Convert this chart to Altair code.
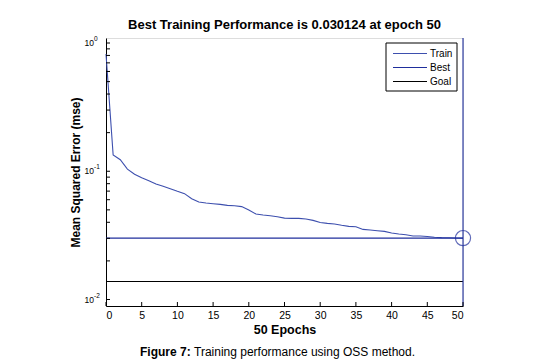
import altair as alt
import pandas as pd

# ---------------- data ----------------
epochs = list(range(0, 51))
train_mse = [0.82, 0.134, 0.123, 0.104, 0.0948, 0.089, 0.0845, 0.0796, 0.0764, 0.0731,
             0.0698, 0.0669, 0.0611, 0.0576, 0.0565, 0.0558, 0.0552, 0.0542, 0.0539, 0.053,
             0.0499, 0.0464, 0.0456, 0.045, 0.0442, 0.0431, 0.0429, 0.0429, 0.0424, 0.0414,
             0.0399, 0.0392, 0.0388, 0.0379, 0.0372, 0.0369, 0.0352, 0.0348, 0.0344, 0.034,
             0.033, 0.0324, 0.032, 0.0313, 0.0313, 0.031, 0.0306, 0.0304, 0.0303, 0.0302,
             0.030124]
best_epoch = 50
best_perf = 0.030124
goal_perf = 0.0138
x_span = [0, 50]

series_names = ["Train", "Best", "Goal"]
series_colors = ["#3d4fae", "#1f2e9c", "#000000"]

x_ticks = list(range(0, 51, 5))
y_minor = [m * 10.0 ** e for e in (-2, -1) for m in range(1, 10)] + [1.0]
y_decades = [1.0, 0.1, 0.01]
y_exponents = ["0", "-1", "-2"]

title_text = "Best Training Performance is 0.030124 at epoch 50"
x_title = "50 Epochs"
y_title = "Mean Squared Error  (mse)"
caption_bold = "Figure 7:"
caption_rest = "Training performance using OSS method."

# ---------------- tables ----------------
rows = [{"epoch": e, "mse": v, "series": "Train"} for e, v in zip(epochs, train_mse)]
rows += [{"epoch": x, "mse": best_perf, "series": "Best"} for x in x_span]
rows += [{"epoch": x, "mse": goal_perf, "series": "Goal"} for x in x_span]
lines_df = pd.DataFrame(rows)

W, H = 357, 268
FONT = "Liberation Sans"

xscale = alt.Scale(domain=[0, 50], nice=False, zero=False)
yscale = alt.Scale(type="log", domain=[0.0089, 1.094], nice=False)

xaxis = alt.Axis(values=x_ticks, tickSize=0, labelPadding=4, labelFontSize=10.5,
                 labelOverlap=False, labelColor="black", domainColor="black",
                 grid=False, title=x_title, titleFontSize=12.5,
                 titleFontWeight="bold", titlePadding=3, titleColor="black")
yaxis = alt.Axis(labels=False, ticks=False, grid=False, domainColor="black",
                 title=y_title, titleFontSize=12, titleFontWeight="bold",
                 titlePadding=24, titleColor="black")


def X(field):
    return alt.X(field, scale=xscale, axis=xaxis)


def Y(field):
    return alt.Y(field, scale=yscale, axis=yaxis)


lines = alt.Chart(lines_df).mark_line(strokeWidth=1.1).encode(
    x=X("epoch:Q"),
    y=Y("mse:Q"),
    color=alt.Color("series:N", scale=alt.Scale(domain=series_names, range=series_colors),
                    legend=None),
    detail="series:N",
)

best_df = pd.DataFrame({"epoch": [best_epoch], "mse": [best_perf]})
vrule = alt.Chart(best_df).mark_rule(color="#1f2e9c", strokeWidth=1.1).encode(
    x=X("epoch:Q"), y=alt.value(0), y2=alt.value(H))
circle = alt.Chart(best_df).mark_point(shape="circle", size=230, filled=False,
                                       color="#1f2e9c", strokeWidth=1.2).encode(
    x=X("epoch:Q"), y=Y("mse:Q"))

yt_df = pd.DataFrame({"v": y_minor})
ytick = alt.Chart(yt_df).mark_rule(color="black").encode(
    y=Y("v:Q"), x=alt.value(0), x2=alt.value(4))
xt_df = pd.DataFrame({"t": x_ticks})
xtick = alt.Chart(xt_df).mark_rule(color="black").encode(
    x=X("t:Q"), y=alt.value(H), y2=alt.value(H - 4))

lab_df = pd.DataFrame({"v": y_decades, "e": y_exponents})
ylab10 = alt.Chart(lab_df).mark_text(text="10", align="right", baseline="middle",
                                      fontSize=8.5, font=FONT, color="black").encode(
    y=Y("v:Q"), x=alt.value(-12))
ylabexp = alt.Chart(lab_df).mark_text(align="left", baseline="middle", dy=-4,
                                       fontSize=6.5, font=FONT, color="black").encode(
    y=Y("v:Q"), x=alt.value(-12), text="e:N")

# legend box (manual, MATLAB style)
leg_layers = []
box = alt.Chart(best_df).mark_rect(fill="white", stroke="black", strokeWidth=1).encode(
    x=alt.value(280), x2=alt.value(351), y=alt.value(5), y2=alt.value(53))
leg_layers.append(box)
for i, (name, col) in enumerate(zip(series_names, series_colors)):
    yy = 15.5 + 14 * i
    leg_layers.append(alt.Chart(best_df).mark_rule(color=col, strokeWidth=1.1).encode(
        x=alt.value(287), x2=alt.value(321), y=alt.value(yy)))
    leg_layers.append(alt.Chart(best_df).mark_text(text=name, align="left", baseline="middle",
                                                    fontSize=10, font=FONT, color="black").encode(
        x=alt.value(324), y=alt.value(yy)))

cap1 = alt.Chart(best_df).mark_text(text=caption_bold, align="left", baseline="middle",
                                     fontSize=12, fontWeight="bold", font=FONT,
                                     color="black").encode(x=alt.value(34), y=alt.value(H + 46))
cap2 = alt.Chart(best_df).mark_text(text=caption_rest, align="left", baseline="middle",
                                     fontSize=12, font=FONT, color="black").encode(
    x=alt.value(88), y=alt.value(H + 46))

chart = alt.layer(lines, vrule, circle, ytick, xtick, ylab10, ylabexp, *leg_layers,
                  cap1, cap2).properties(
    width=W, height=H,
    title=alt.TitleParams(title_text, fontSize=13, fontWeight="bold", anchor="middle",
                          font=FONT, color="black", offset=4),
    autosize=alt.AutoSizeParams(type="none"),
    padding={"left": 98, "top": 30, "right": 60, "bottom": 56},
).configure_view(stroke=None).configure(font=FONT, background="white")

chart.save("out.html", embed_options={"renderer": "svg", "actions": False})
